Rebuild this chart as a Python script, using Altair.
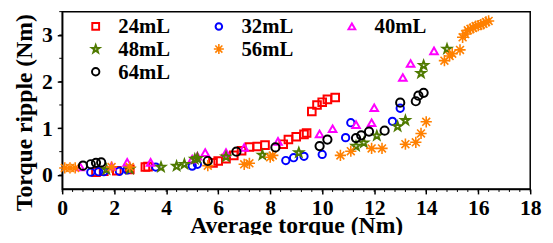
import altair as alt
import pandas as pd

# ---- data ----
x24 = [1.3, 1.6, 2.1, 2.6, 3.2, 3.3, 5.8, 6.0, 6.3, 6.6, 6.9, 7.2, 7.5, 7.8, 8.5, 8.7, 9.0, 9.3, 9.4, 9.6, 9.8, 10.0, 10.2, 10.5]
y24 = [0.06, 0.08, 0.09, 0.12, 0.17, 0.18, 0.26, 0.30, 0.35, 0.42, 0.52, 0.60, 0.61, 0.64, 0.66, 0.76, 0.82, 0.87, 0.90, 1.36, 1.50, 1.56, 1.62, 1.66]

x32 = [1.1, 1.4, 1.6, 2.2, 2.5, 3.6, 5.0, 5.2, 8.6, 8.9, 9.3, 10.0, 10.9, 11.1, 12.7, 13.0]
y32 = [0.06, 0.07, 0.07, 0.08, 0.11, 0.17, 0.19, 0.23, 0.31, 0.37, 0.40, 0.44, 0.80, 1.12, 1.15, 1.43]

x40 = [0.7, 1.9, 2.5, 3.4, 5.0, 5.2, 5.5, 6.3, 7.0, 8.3, 9.9, 10.4, 11.3, 11.9, 12.0, 13.1, 13.4, 14.3]
y40 = [0.17, 0.19, 0.27, 0.27, 0.34, 0.40, 0.48, 0.48, 0.59, 0.72, 0.88, 0.99, 1.08, 1.12, 1.44, 2.09, 2.39, 2.66]

x48 = [1.7, 2.6, 3.8, 4.4, 4.7, 5.1, 5.2, 6.3, 7.7, 9.1, 11.3, 11.6, 12.1, 12.9, 13.2, 13.8, 13.9, 14.8]
y48 = [0.12, 0.13, 0.17, 0.19, 0.23, 0.34, 0.36, 0.39, 0.43, 0.48, 0.62, 0.69, 0.84, 1.04, 1.17, 2.18, 2.35, 2.70]

x56 = [0.1, 0.3, 0.5, 1.9, 2.6, 5.6, 7.0, 7.2, 8.0, 8.1, 10.7, 11.1, 11.9, 12.3, 13.2, 13.6, 13.8, 14.0,
       14.7, 14.9, 15.0, 15.3, 15.4, 15.5, 15.6, 15.7, 15.8, 15.9, 16.0, 16.1, 16.2, 16.3, 16.4]
y56 = [0.15, 0.15, 0.15, 0.17, 0.17, 0.20, 0.23, 0.25, 0.38, 0.42, 0.42, 0.51, 0.57, 0.57, 0.66, 0.70, 0.89, 1.14,
       2.45, 2.55, 2.60, 2.68, 2.95, 3.02, 3.10, 3.13, 3.15, 3.19, 3.20, 3.22, 3.24, 3.28, 3.30]

x64 = [0.8, 1.1, 1.3, 1.5, 5.6, 6.7, 8.2, 9.9, 10.2, 11.3, 11.5, 11.8, 12.4, 13.0, 13.6, 13.7, 13.9]
y64 = [0.20, 0.23, 0.26, 0.27, 0.30, 0.50, 0.59, 0.62, 0.76, 0.79, 0.85, 0.93, 0.95, 1.55, 1.58, 1.70, 1.76]

labels = ["24mL", "32mL", "40mL", "48mL", "56mL", "64mL"]
x_ticks = [0, 2, 4, 6, 8, 10, 12, 14, 16, 18]
y_ticks = [0, 1, 2, 3]
x_minor = [round(i * 0.4, 2) for i in range(46)]
y_minor = [-0.5 + 0.5 * i for i in range(9)]

FONT = "Liberation Serif"
W, H = 475, 180
XDOM = [0, 18]
YDOM = [-0.3, 3.5]

ASTER = "M-1,0L1,0M0,-1L0,1M-0.7,-0.7L0.7,0.7M-0.7,0.7L0.7,-0.7"
STAR = ("M0,-1L0.235,-0.324L0.951,-0.309L0.38,0.124L0.588,0.809L0,0.4"
        "L-0.588,0.809L-0.38,0.124L-0.951,-0.309L-0.235,-0.324Z")

styles = {
    "24mL": dict(shape="square", color="#FF0000", size=60, sw=2),
    "32mL": dict(shape="circle", color="#0000FF", size=55, sw=2),
    "40mL": dict(shape="triangle-up", color="#FF00FF", size=60, sw=2),
    "48mL": dict(shape=STAR, color="#4F7A00", size=80, sw=2),
    "56mL": dict(shape=ASTER, color="#FF8000", size=130, sw=1.6),
    "64mL": dict(shape="circle", color="#000000", size=70, sw=2),
}
series = {"24mL": (x24, y24), "32mL": (x32, y32), "40mL": (x40, y40),
          "48mL": (x48, y48), "56mL": (x56, y56), "64mL": (x64, y64)}

xscale = alt.Scale(domain=XDOM, nice=False, zero=False)
yscale = alt.Scale(domain=YDOM, nice=False, zero=False)

xaxis = alt.Axis(values=x_ticks, title="Average torque (Nm)", labelFont=FONT, labelFontSize=22,
                 labelFontWeight="bold", titleFont=FONT, titleFontSize=24, titleFontWeight="bold",
                 labelColor="black", titleColor="black", domainColor="black", tickColor="black",
                 tickSize=5, tickWidth=1.5, domainWidth=1.5, labelPadding=4, titlePadding=-5, grid=False,
                 format="d", labelFlush=False)
yaxis = alt.Axis(values=y_ticks, title="Torque ripple (Nm)", labelFont=FONT, labelFontSize=22,
                 labelFontWeight="bold", titleFont=FONT, titleFontSize=24, titleFontWeight="bold",
                 labelColor="black", titleColor="black", domainColor="black", tickColor="black",
                 tickSize=5, tickWidth=1.5, domainWidth=1.5, labelPadding=5, titlePadding=5, grid=False,
                 titleY=102, format="d", labelFlush=False)

X = alt.X("x:Q", scale=xscale, axis=xaxis)
Y = alt.Y("y:Q", scale=yscale, axis=yaxis)

layers = []
for name in labels:
    xs, ys = series[name]
    df = pd.DataFrame({"x": xs, "y": ys})
    st = styles[name]
    layers.append(
        alt.Chart(df).mark_point(shape=st["shape"], size=st["size"], filled=False,
                                 stroke=st["color"], strokeWidth=st["sw"], opacity=1)
        .encode(x=X, y=Y)
    )

# minor ticks
mx = pd.DataFrame({"x": x_minor})
layers.append(alt.Chart(mx).mark_rule(color="black", strokeWidth=1).encode(
    x=X, y=alt.value(H), y2=alt.value(H + 3)))
my = pd.DataFrame({"y": [v for v in y_minor if YDOM[0] <= v <= YDOM[1]]})
layers.append(alt.Chart(my).mark_rule(color="black", strokeWidth=1).encode(
    y=Y, x=alt.value(0), x2=alt.value(-3)))

# legend (layout positions in plot pixels)
leg_pos = {"24mL": (34, 15), "32mL": (159, 15), "40mL": (294, 15),
           "48mL": (34, 38), "56mL": (159, 38), "64mL": (34, 61)}
one = pd.DataFrame({"a": [0]})
for name in labels:
    st = styles[name]
    px, py = leg_pos[name]
    layers.append(alt.Chart(one).mark_point(shape=st["shape"], size=st["size"] * 0.8, filled=False,
                                            stroke=st["color"], strokeWidth=st["sw"], opacity=1)
                  .encode(x=alt.value(px), y=alt.value(py)))
    layers.append(alt.Chart(one).mark_text(text=name, font=FONT, fontSize=21, fontWeight="bold",
                                           align="left", baseline="middle", color="black")
                  .encode(x=alt.value(px + 23), y=alt.value(py + 1)))

chart = alt.layer(*layers).properties(
    width=W, height=H,
    padding={"left": 55, "top": 2, "right": 15, "bottom": 45},
    autosize=alt.AutoSizeParams(type="none"),
).configure_view(stroke="black", strokeWidth=1.5)

chart.save("out.html", embed_options={"renderer": "svg", "actions": False})
